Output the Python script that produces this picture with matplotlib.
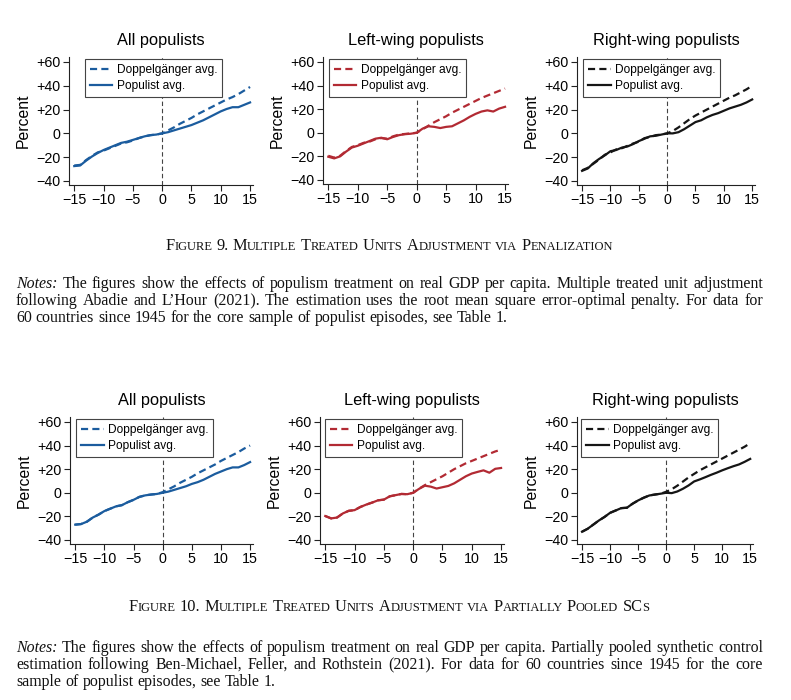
import matplotlib
matplotlib.use("Agg")
import matplotlib.pyplot as plt

W, H = 791, 700
SANS = "Liberation Sans"
SERIF = "Liberation Serif"
plt.rcParams["font.family"] = SANS

years = list(range(-15, 16))

# Figure 9: adjustment via penalization
all_pen_pop = [-27.5, -27, -23, -19.5, -16.5, -14, -12, -10, -8, -7, -5.5, -4, -2.5, -1.5, -1,
               0, 1, 2.5, 4, 5.5, 7, 9, 11, 13.5, 16, 18.5, 20.5, 22, 22, 24, 26]
all_pen_dop = [-27, -26.5, -22.5, -19, -16, -14.5, -12.5, -10.5, -8.5, -7.5, -6, -4, -2.5, -1.5, -1,
               0, 2.5, 5, 8, 10.5, 13, 16, 18.5, 21, 23.5, 26, 28.5, 30.5, 33, 36, 39]
left_pen_pop = [-20.3, -21.7, -20, -16, -12.5, -11, -9, -7, -5, -4.2, -5.5, -3.5, -2, -1.2, -0.8,
                0, 3.5, 5.5, 5, 4, 5, 5.5, 8, 10.5, 13.5, 16, 18, 19, 18, 20.5, 22]
left_pen_dop = [-19.5, -21, -19.5, -15.5, -12, -10.5, -8.5, -7.5, -5.5, -4.5, -5, -3, -1.5, -1, -0.5,
                0, 3, 6, 9, 11.5, 14, 17, 19.5, 22, 24.5, 27, 29.5, 31.5, 33.5, 35.5, 37.5]
right_pen_pop = [-31.5, -29.5, -25, -21.5, -18.5, -15, -14, -12, -11, -9, -6.5, -4.5, -2.5, -2, -1,
                 0, 0, 1, 3.5, 6.5, 9.5, 11, 13.5, 15.5, 17, 19, 21, 22.5, 24, 26, 28.5]
right_pen_dop = [-31, -29, -25.5, -22, -18, -16, -13.5, -12.5, -10.5, -8.5, -7, -4, -3, -1.5, -1,
                 0, 2, 5, 8.5, 12, 15, 17.5, 20, 22.5, 25, 27.5, 30, 32, 34.5, 37, 40]

# Figure 10: partially pooled synthetic controls
all_pool_pop = [-27, -26.5, -24.5, -21, -18.5, -15.5, -13.5, -11.5, -10.5, -8, -6, -3.5, -2.2, -1.5, -1,
                0, 1, 2.5, 4, 5.5, 7.5, 9, 11, 13.5, 16, 18, 20, 21.5, 21.5, 23.5, 26]
all_pool_dop = [-27, -26.5, -24.5, -21, -18.5, -15.5, -13.5, -11.5, -10.5, -8, -6, -3.5, -2.2, -1.5, -1,
                0.5, 3, 5.5, 8.5, 11, 13.5, 16.5, 19, 21.5, 24, 27, 29.5, 32, 34.5, 37.5, 40]
left_pool_pop = [-19.7, -21.7, -21, -17.5, -15.3, -14.7, -12, -10, -8.3, -6.4, -5.8, -3, -2, -1, -1.2,
                 0, 3.3, 6, 5.2, 3.6, 4.7, 5.8, 8, 11, 14, 16.3, 17.7, 19, 17, 20.3, 21]
left_pool_dop = [-19.7, -21.7, -21, -17.5, -15.3, -14.7, -12, -10, -8.3, -6.4, -5.8, -3, -2, -1, -1.2,
                 0, 3.5, 6.5, 9, 11.5, 14, 17, 20, 22.5, 25, 27, 29, 31, 33, 35, 36.5]
right_pool_pop = [-33, -30.5, -27, -23.5, -20.5, -17, -15, -13, -12.7, -9.3, -6.5, -4.2, -2.3, -1.5, -0.8,
                  0, -0.3, 1.1, 3.4, 6.2, 9.6, 11.3, 13.2, 15.2, 17, 19, 20.8, 22.5, 24, 26.2, 28.7]
right_pool_dop = [-33, -30.5, -27, -23.5, -20.5, -17, -15, -13, -12.7, -9.3, -6.5, -4.2, -2.3, -1.5, -0.8,
                  0.8, 3, 6, 9.5, 13, 16, 19, 21.5, 24, 26.5, 29, 31.5, 34, 36.5, 39, 42]

panel_titles = ["All populists", "Left-wing populists", "Right-wing populists"]
panel_colors = ["#1b5c9e", "#b22a33", "#151515"]
legend_labels = ["Doppelgänger avg.", "Populist avg."]
y_ticks = [-40, -20, 0, 20, 40, 60]
y_tick_labels = ["\u221240", "\u221220", "0", "+20", "+40", "+60"]
x_ticks = [-15, -10, -5, 0, 5, 10, 15]
x_tick_labels = ["\u221215", "\u221210", "\u22125", "0", "5", "10", "15"]

fig9_caption = "Figure 9. Multiple Treated Units Adjustment via Penalization"
fig9_notes = [
    "Notes: The figures show the effects of populism treatment on real GDP per capita. Multiple treated unit adjustment",
    "following Abadie and L\u2019Hour (2021). The estimation uses the root mean square error-optimal penalty. For data for",
    "60 countries since 1945 for the core sample of populist episodes, see Table 1.",
]
fig10_caption = "Figure 10. Multiple Treated Units Adjustment via Partially Pooled SCs"
fig10_notes = [
    "Notes: The figures show the effects of populism treatment on real GDP per capita. Partially pooled synthetic control",
    "estimation following Ben-Michael, Feller, and Rothstein (2021). For data for 60 countries since 1945 for the core",
    "sample of populist episodes, see Table 1.",
]

# pixel boxes: left, right, top, bottom, legend x (axes fraction)
row1_boxes = [(69, 253, 57, 185, 0.087), (323, 508, 57, 184, 0.032), (577, 755, 57, 185, 0.034)]
row2_boxes = [(70, 253, 417, 544, 0.033), (320, 504, 417, 544, 0.027), (577, 753, 417, 544, 0.023)]

fig = plt.figure(figsize=(W / 100, H / 100), dpi=100)
renderer = fig.canvas.get_renderer()


def draw_panel(box, title, color, pop, dop):
    left, right, top, bottom, lx = box
    ax = fig.add_axes([left / W, 1 - bottom / H, (right - left) / W, (bottom - top) / H])
    ax.axvline(0, color="#444444", lw=0.8, dashes=(4, 2.5), zorder=1)
    ax.plot(years, dop, color=color, lw=1.6, dashes=(3.2, 1.9), label=legend_labels[0], zorder=3)
    ax.plot(years, pop, color=color, lw=1.6, label=legend_labels[1], zorder=2)
    ax.set_xlim(-15.9, 15.5)
    ax.set_ylim(-43.4, 64.2)
    ax.set_xticks(x_ticks)
    ax.set_xticklabels(x_tick_labels)
    ax.set_yticks(y_ticks)
    ax.set_yticklabels(y_tick_labels)
    for side in ["top", "right"]:
        ax.spines[side].set_visible(False)
    for side in ["left", "bottom"]:
        ax.spines[side].set_linewidth(0.8)
        ax.spines[side].set_color("#222222")
    ax.tick_params(direction="out", length=4, width=0.8, color="#222222", labelsize=10.3, pad=2)
    ax.set_title(title, fontsize=11.8, pad=8.5)
    ax.set_ylabel("Percent", fontsize=11.3, va="center")
    ax.yaxis.set_label_coords(-46 / (right - left), 0.5)
    handles, labels = ax.get_legend_handles_labels()
    leg = ax.legend(handles, labels, loc="upper left", bbox_to_anchor=(lx, 0.985), borderaxespad=0,
                    fontsize=8.6, frameon=True, fancybox=False, framealpha=1, handlelength=1.9,
                    handletextpad=0.35, borderpad=0.4, labelspacing=0.38)
    leg.get_frame().set_edgecolor("#444444")
    leg.get_frame().set_linewidth(0.8)
    return ax


def text_width(s, size, style="normal"):
    t = fig.text(0, 0, s, fontsize=size, family=SERIF, style=style)
    w = t.get_window_extent(renderer).width
    t.remove()
    return w


def space_width(size):
    return text_width("a a", size) - text_width("aa", size)


def small_caps(text, cx, y, big, small):
    words = []
    for word in text.split(" "):
        runs = []
        for ch in word:
            size = small if ch.islower() else big
            if runs and runs[-1][1] == size:
                runs[-1][0] += ch.upper()
            else:
                runs.append([ch.upper(), size])
        words.append([(s, sz, text_width(s, sz)) for s, sz in runs])
    gap = space_width(big)
    total = sum(w for runs in words for _, _, w in runs) + gap * (len(words) - 1)
    x = cx - total / 2
    for runs in words:
        for s, sz, w in runs:
            fig.text(x / W, 1 - y / H, s, fontsize=sz, family=SERIF, va="baseline", color="#111111")
            x += w
        x += gap


def note_line(line, y, justify, x0=16, x1=763, size=11.4):
    words = line.split(" ")
    styles = ["italic" if w == "Notes:" else "normal" for w in words]
    widths = [text_width(w, size, st) for w, st in zip(words, styles)]
    if justify:
        gap = (x1 - x0 - sum(widths)) / (len(words) - 1)
    else:
        gap = space_width(size)
    x = x0
    for w, st, wd in zip(words, styles, widths):
        fig.text(x / W, 1 - y / H, w, fontsize=size, family=SERIF, style=st, va="baseline",
                 color="#111111")
        x += wd + gap


row1_data = [(all_pen_pop, all_pen_dop), (left_pen_pop, left_pen_dop), (right_pen_pop, right_pen_dop)]
row2_data = [(all_pool_pop, all_pool_dop), (left_pool_pop, left_pool_dop), (right_pool_pop, right_pool_dop)]

for i in range(3):
    draw_panel(row1_boxes[i], panel_titles[i], panel_colors[i], *row1_data[i])
    draw_panel(row2_boxes[i], panel_titles[i], panel_colors[i], *row2_data[i])

small_caps(fig9_caption, 389, 250, 11.8, 9)
for k, (line, y) in enumerate(zip(fig9_notes, [288, 305, 322])):
    note_line(line, y, justify=(k < 2))

small_caps(fig10_caption, 389, 611, 11.8, 9)
for k, (line, y) in enumerate(zip(fig10_notes, [652, 669, 686])):
    note_line(line, y, justify=(k < 2))

fig.savefig("out.png", dpi=100, facecolor="white")
